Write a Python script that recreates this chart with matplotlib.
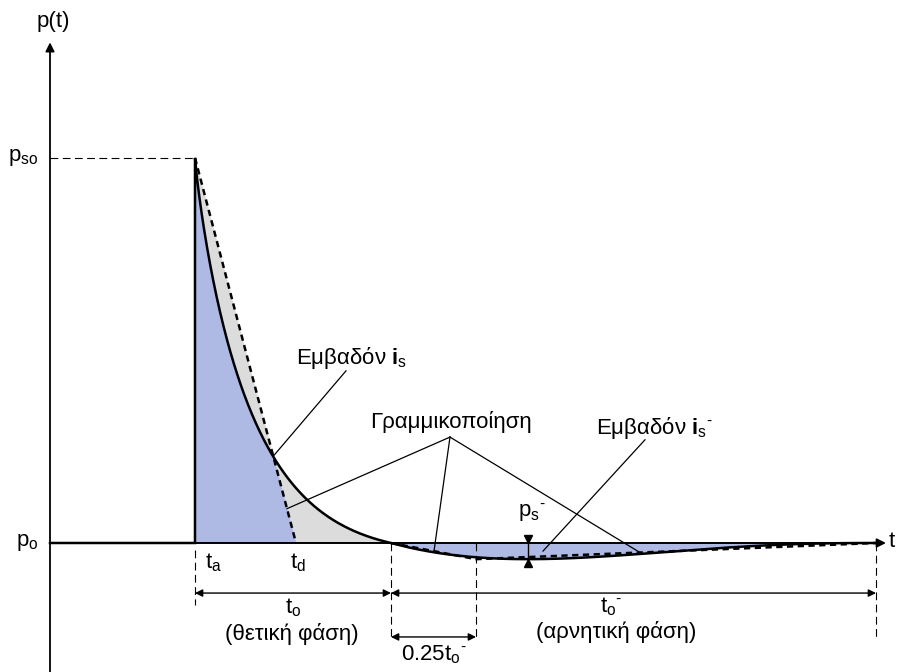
import numpy as np
import matplotlib.pyplot as plt

plt.rcParams['font.family'] = 'Liberation Sans'
plt.rcParams['mathtext.fontset'] = 'custom'
plt.rcParams['mathtext.rm'] = 'Liberation Sans'
plt.rcParams['mathtext.it'] = 'Liberation Sans'
plt.rcParams['mathtext.bf'] = 'Liberation Sans:bold'

# characteristic times (arbitrary units) and pressures (p_o = 0, p_so = 1)
t_a = 2.9            # arrival time
t_d = 4.92           # end of linearised positive phase
t_o = 3.92           # positive phase duration
t_o_neg = 9.7        # negative phase duration
t_lin_neg = 1.7      # linearised negative peak after end of positive phase
t_peak_neg = 2.74    # negative peak after end of positive phase
p_so = 1.0
p_s_neg = 0.042
decay_b = 2.15
decay_c = 0.85

t_pos_end = t_a + t_o
t_end = t_pos_end + t_o_neg

# positive phase (Friedlander type curve)
t1 = np.linspace(t_a, t_pos_end, 400)
r = (t1 - t_a) / t_o
p1 = p_so * (1 - r) * np.exp(-decay_b * r ** decay_c)
lin1 = np.clip(p_so * (1 - (t1 - t_a) / (t_d - t_a)), 0, None)

# negative phase
t2 = np.linspace(t_pos_end, t_end, 400)
s = (t2 - t_pos_end) / t_o_neg
sm = t_peak_neg / t_o_neg
k = (1 - sm) / sm
g = s * (1 - s) ** k
p2 = -p_s_neg * g / (sm * (1 - sm) ** k)

fig = plt.figure(figsize=(8.99, 6.72), dpi=100)
ax = fig.add_axes([0, 0, 1, 1])
ax.set_xlim(-1.0, 16.98)
ax.set_ylim(-0.335, 1.410)
ax.axis('off')

blue = '#aebae4'
grey = '#dcdcdc'

# areas
ax.fill_between(t1, 0, np.maximum(p1, lin1), color=grey, lw=0, zorder=1)
ax.fill_between(t1, 0, np.minimum(p1, lin1), color=blue, lw=0, zorder=1)
ax.fill_between(t2, 0, p2, color=blue, lw=0, zorder=1)

# axes
ax.annotate('', xy=(0, 1.30), xytext=(0, -0.335),
            arrowprops=dict(arrowstyle='-|>', lw=1.3, color='k', mutation_scale=13,
                            shrinkA=0, shrinkB=0), zorder=2)
ax.annotate('', xy=(16.72, 0), xytext=(0, 0),
            arrowprops=dict(arrowstyle='-|>', lw=1.4, color='k', mutation_scale=13,
                            shrinkA=0, shrinkB=0), zorder=2)

# thin dashed guides
dash = (0, (7, 4))
ax.plot([0, t_a], [p_so, p_so], color='k', lw=0.8, ls=dash)
ax.plot([t_a, t_a], [-0.018, -0.161], color='k', lw=0.8, ls=dash)
ax.plot([t_pos_end, t_pos_end], [0, -0.252], color='k', lw=0.8, ls=dash)
ax.plot([t_pos_end + t_lin_neg, t_pos_end + t_lin_neg], [0, -0.252], color='k', lw=0.8, ls=dash)
ax.plot([t_end, t_end], [0, -0.252], color='k', lw=0.8, ls=dash)

# pressure curve
curve_t = np.concatenate([[0, t_a], t1, t2])
curve_p = np.concatenate([[0, 0], p1, p2])
ax.plot(curve_t, curve_p, color='k', lw=1.8, zorder=3, solid_joinstyle='miter')

# linearisation
ax.plot([t_a, t_d], [p_so, 0], color='k', lw=1.8, ls=(0, (2.5, 1.8)), zorder=4)
ax.plot([t_pos_end, t_pos_end + t_lin_neg, t_end], [0, -p_s_neg, 0],
        color='k', lw=1.8, ls=(0, (2.5, 1.8)), zorder=4)

# dimension arrows
def dim(x0, x1, y):
    ax.annotate('', xy=(x1, y), xytext=(x0, y),
                arrowprops=dict(arrowstyle='<|-|>', lw=1.0, color='k', mutation_scale=11,
                                shrinkA=0, shrinkB=0))

dim(t_a, t_pos_end, -0.130)
dim(t_pos_end, t_end, -0.130)
dim(t_pos_end, t_pos_end + t_lin_neg, -0.244)

# negative peak marker
t_pk = t_pos_end + t_peak_neg
ax.plot([t_pk, t_pk], [0, -p_s_neg], color='k', lw=1.0, zorder=5)
ax.plot([t_pk], [0.011], marker='v', color='k', ms=5.5, zorder=5)
ax.plot([t_pk], [-p_s_neg - 0.011], marker='^', color='k', ms=5.5, zorder=5)

# leader lines
i_x = np.where(np.diff(np.sign(p1[5:] - lin1[5:])) != 0)[0][0] + 5
ax.plot([5.92, t1[i_x]], [0.447, p1[i_x]], color='k', lw=0.9)

apex = (8.0, 0.275)
t_g1 = 4.74
ax.plot([apex[0], t_g1], [apex[1], p_so * (1 - (t_g1 - t_a) / (t_d - t_a))], color='k', lw=0.9)
t_g2 = 7.68
ax.plot([apex[0], t_g2], [apex[1], -p_s_neg * (t_g2 - t_pos_end) / t_lin_neg], color='k', lw=0.9)
t_g3 = 11.8
ax.plot([apex[0], t_g3],
        [apex[1], -p_s_neg * (1 - (t_g3 - t_pos_end - t_lin_neg) / (t_o_neg - t_lin_neg))],
        color='k', lw=0.9)

ax.plot([11.9, 9.86], [0.268, -0.021], color='k', lw=0.9)

# labels
fs = 16
hy = '\u2010'
ax.text(0.06, 1.353, 'p(t)', fontsize=fs, ha='center', va='center')
ax.text(-0.24, p_so, r'p$_{\mathrm{so}}$', fontsize=fs, ha='right', va='center')
ax.text(-0.22, 0, r'p$_{\mathrm{o}}$', fontsize=fs, ha='right', va='center')
ax.text(16.78, 0.004, 't', fontsize=fs, ha='left', va='center')
ax.text(3.1, -0.052, r't$_{\mathrm{a}}$', fontsize=fs, ha='left', va='center')
ax.text(4.8, -0.052, r't$_{\mathrm{d}}$', fontsize=fs, ha='left', va='center')
ax.text(4.86, -0.169, r't$_{\mathrm{o}}$', fontsize=fs, ha='center', va='center')
ax.text(4.84, -0.236, '(θετική φάση)', fontsize=fs, ha='center', va='center')
ax.text(11.22, -0.166, 't$_{\\mathrm{o}}{}^{' + hy + '}$', fontsize=fs, ha='center', va='center')
ax.text(11.32, -0.231, '(αρνητική φάση)', fontsize=fs, ha='center', va='center')
ax.text(7.68, -0.291, '0.25t$_{\\mathrm{o}}{}^{' + hy + '}$', fontsize=fs, ha='center', va='center')
ax.text(9.64, 0.078, 'p$_{\\mathrm{s}}{}^{' + hy + '}$', fontsize=fs, ha='center', va='center')
ax.text(4.92, 0.48, r'Εμβαδόν $\mathbf{i}_{\mathrm{s}}$', fontsize=fs, ha='left', va='center')
ax.text(6.4, 0.314, 'Γραμμικοποίηση', fontsize=fs, ha='left', va='center')
ax.text(10.92, 0.299, 'Εμβαδόν $\\mathbf{i}_{\\mathrm{s}}{}^{' + hy + '}$', fontsize=fs,
        ha='left', va='center')

fig.savefig('out.png', dpi=100)
